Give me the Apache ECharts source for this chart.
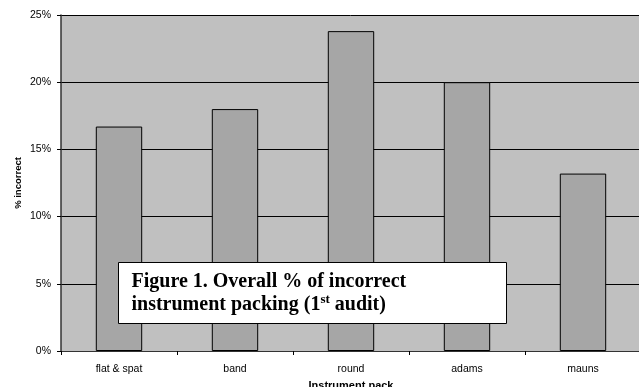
<!DOCTYPE html>
<html>
<head>
<meta charset="utf-8">
<script src="https://cdn.jsdelivr.net/npm/echarts@6/dist/echarts.min.js"></script>
<style>html,body{margin:0;padding:0;background:#fff}#c{width:639px;height:387px}</style>
</head>
<body>
<div id="c"></div>
<script>
var categories = ['flat & spat', 'band', 'round', 'adams', 'mauns'];
var values = [16.7, 18.0, 23.8, 20.0, 13.2];
var yTicks = [0, 5, 10, 15, 20, 25];

var chart = echarts.init(document.getElementById('c'), null, {renderer: 'canvas'});
chart.setOption({
  animation: false,
  backgroundColor: '#ffffff',
  grid: {left: 61, right: -2, top: 15, bottom: 36, show: true, backgroundColor: '#c0c0c0', borderWidth: 0, containLabel: false, outerBoundsMode: 'none'},
  xAxis: {
    type: 'category',
    data: categories,
    name: 'Instrument pack',
    nameLocation: 'middle',
    nameGap: 29,
    nameTextStyle: {fontFamily: 'Liberation Sans, Arial', fontWeight: 'bold', fontSize: 11, color: '#000'},
    axisLine: {show: true, lineStyle: {color: '#333', width: 1}},
    axisTick: {show: true, alignWithLabel: false, length: 4, lineStyle: {color: '#000'}},
    axisLabel: {fontFamily: 'Liberation Sans, Arial', fontSize: 10.5, color: '#000', margin: 13},
    splitLine: {show: false}
  },
  yAxis: {
    type: 'value',
    min: yTicks[0],
    max: yTicks[yTicks.length - 1],
    interval: 5,
    name: '% incorrect',
    nameLocation: 'middle',
    nameGap: 38,
    nameMoveOverlap: false,
    nameTextStyle: {fontFamily: 'Liberation Sans, Arial', fontWeight: 'bold', fontSize: 9.5, color: '#000'},
    axisLine: {show: true, lineStyle: {color: '#333', width: 1.5}},
    axisTick: {show: true, length: 4, lineStyle: {color: '#000'}},
    axisLabel: {formatter: '{value}%', fontFamily: 'Liberation Sans, Arial', fontSize: 10.5, color: '#000', margin: 10},
    splitLine: {show: true, lineStyle: {color: '#000', width: 1}}
  },
  series: [{
    type: 'bar',
    data: values,
    barWidth: '40%',
    itemStyle: {color: '#a6a6a6', borderColor: '#000', borderWidth: 1}
  }],
  graphic: [{
    type: 'group',
    left: 118,
    top: 262,
    z: 100,
    children: [
      {type: 'rect', z: 100, shape: {x: 0, y: 0, width: 388, height: 61}, style: {fill: '#fff', stroke: '#000', lineWidth: 1}},
      {type: 'text', z: 101, x: 13, y: 8, style: {
        text: '{b|Figure 1. Overall % of incorrect}\n{b|instrument packing (1}{s|st}{b| audit)}',
        rich: {
          b: {fontFamily: 'Liberation Serif, Times New Roman', fontWeight: 'bold', fontSize: 20, lineHeight: 23, fill: '#000'},
          s: {fontFamily: 'Liberation Serif, Times New Roman', fontWeight: 'bold', fontSize: 13, lineHeight: 23, verticalAlign: 'top', fill: '#000'}
        },
        fill: '#000'
      }}
    ]
  }]
});
</script>
</body>
</html>
